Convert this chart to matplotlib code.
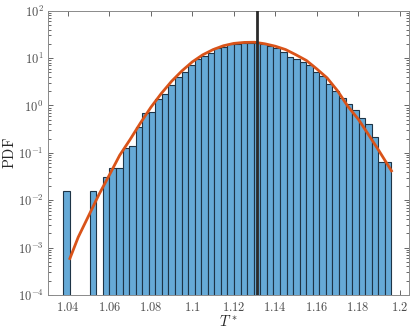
import numpy as np
import matplotlib
matplotlib.use("Agg")
from matplotlib import pyplot as plt
from matplotlib.ticker import FixedLocator, FuncFormatter, NullFormatter

# histogram: 50 equal bins, density (0 = empty bin)
bin_lo, bin_hi, n_bins = 1.0379, 1.1960, 50
density = [0.0157, 0, 0, 0, 0.0157, 0, 0.0315, 0.047, 0.047, 0.125,
           0.142, 0.357, 0.705, 0.74, 1.35, 1.75, 2.71, 4.05, 5.17, 7.15,
           9.6, 11.2, 13.0, 16.1, 17.4, 19.6, 19.8, 20.5, 21.1, 20.5,
           19.8, 18.3, 16.1, 13.6, 10.7, 9.4, 8.4, 7.26, 5.17, 4.25,
           2.84, 2.0, 1.42, 1.09, 0.79, 0.537, 0.40, 0.22, 0.063, 0.063]

# fitted curve, points
fit_x = [1.041, 1.045, 1.050, 1.055, 1.060, 1.065, 1.070, 1.075, 1.080, 1.085,
         1.090, 1.095, 1.100, 1.105, 1.110, 1.115, 1.120, 1.125, 1.130, 1.135,
         1.140, 1.145, 1.150, 1.155, 1.160, 1.165, 1.170, 1.175, 1.180, 1.185,
         1.190, 1.196]
fit_y = [5.9e-4, 1.66e-3, 4.68e-3, 0.0132, 0.0339, 0.0891, 0.191, 0.427, 0.912, 1.78,
         3.24, 5.37, 8.32, 11.7, 15.1, 18.2, 20.4, 21.4, 21.6, 20.0,
         17.8, 15.1, 11.7, 8.9, 5.9, 3.8, 2.04, 0.955, 0.513, 0.240,
         0.110, 0.0417]

mean_T = 1.1312
x_ticks = [1.04, 1.06, 1.08, 1.1, 1.12, 1.14, 1.16, 1.18, 1.2]
y_decades = [-4, -3, -2, -1, 0, 1, 2]

plt.rcParams['mathtext.fontset'] = 'cm'
plt.rcParams['font.family'] = 'serif'
plt.rcParams['font.serif'] = ['DejaVu Serif']

fig = plt.figure(figsize=(4.12, 3.3), dpi=100)
ax = fig.add_axes([0.1158, 0.106, 0.8762, 0.8616])

edges = np.linspace(bin_lo, bin_hi, n_bins + 1)
dens = np.array(density)
keep = dens > 0
ax.bar(edges[:-1][keep], dens[keep], width=np.diff(edges)[keep], align='edge',
       color='#66aad7', edgecolor='#1e3446', linewidth=0.8, zorder=2)

ax.plot(fit_x, fit_y, color='#d95319', lw=2.0, zorder=3)
ax.axvline(mean_T, color='#2b2b2b', lw=2.0, zorder=4)

ax.set_yscale('log')
ax.set_xlim(1.0303, 1.2043)
ax.set_ylim(1e-4, 1e2)

ax.xaxis.set_major_locator(FixedLocator(x_ticks))
ax.xaxis.set_major_formatter(FuncFormatter(lambda v, p: r'$%g$' % round(v, 2)))
major_y = [10.0 ** d for d in y_decades]
minor_y = [m * 10.0 ** d for d in y_decades[:-1] for m in range(2, 10)]
ax.yaxis.set_major_locator(FixedLocator(major_y))
ax.yaxis.set_minor_locator(FixedLocator(minor_y))
ax.yaxis.set_minor_formatter(NullFormatter())
ax.yaxis.set_major_formatter(FuncFormatter(lambda v, p: r'$10^{%d}$' % round(np.log10(v))))
ax.xaxis.offsetText.set_visible(False)
ax.yaxis.offsetText.set_visible(False)

gray = '#4d4d4d'
ax.tick_params(which='both', direction='in', top=True, right=True, colors=gray,
               labelsize=9, width=0.6)
ax.tick_params(which='major', length=3.5)
ax.tick_params(which='minor', length=2)
ax.tick_params(axis='x', pad=4)
ax.tick_params(axis='y', pad=3)
for s in ax.spines.values():
    s.set_color('#8a8a8a')
    s.set_linewidth(0.7)

ax.set_xlabel(r'$T^*$', fontsize=10.5, color='#262626', va='center')
ax.set_ylabel(r'$\mathrm{PDF}$', fontsize=10.5, color='#262626', va='center')
ax.xaxis.set_label_coords(0.5, -0.094)
ax.yaxis.set_label_coords(-0.107, 0.5)

fig.savefig('out.png', dpi=100)
